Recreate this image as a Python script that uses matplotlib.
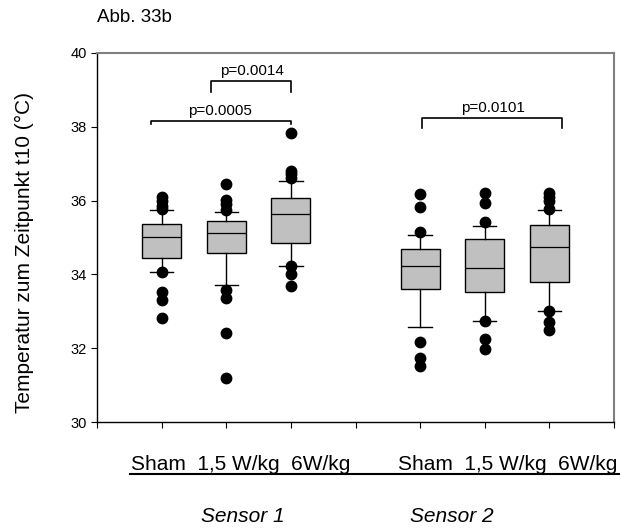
import matplotlib
matplotlib.use('Agg')
import matplotlib.pyplot as plt
from matplotlib.lines import Line2D

plt.rcParams['font.family'] = ['Liberation Sans', 'DejaVu Sans']

# box positions: Sensor 1 at 1..3, Sensor 2 at 5..7
positions = [1, 2, 3, 5, 6, 7]
q1 = [34.44, 34.57, 34.85, 33.60, 33.52, 33.80]
median = [35.02, 35.13, 35.63, 34.23, 34.17, 34.75]
q3 = [35.36, 35.44, 36.08, 34.70, 34.95, 35.34]
whislo = [34.06, 33.72, 34.23, 32.58, 32.74, 33.00]
whishi = [35.75, 35.68, 36.54, 35.08, 35.30, 35.75]
fliers = [
    [36.10, 35.99, 35.85, 35.77, 34.06, 33.53, 33.30, 32.81],
    [36.46, 36.02, 35.90, 35.75, 33.57, 33.35, 32.41, 31.20],
    [37.82, 36.79, 36.71, 36.62, 34.23, 34.00, 33.68],
    [36.19, 35.84, 35.14, 32.16, 31.74, 31.53],
    [36.21, 35.93, 35.41, 32.74, 32.25, 31.98],
    [36.21, 36.10, 35.99, 35.77, 33.00, 32.70, 32.48],
]

# significance brackets: (x left, x right, y, drop, label, label x)
brackets = [
    (0.83, 3.0, 38.16, 0.09, 'p=0.0005', 1.90),
    (1.76, 3.0, 39.24, 0.30, 'p=0.0014', 2.40),
    (5.03, 7.2, 38.23, 0.25, 'p=0.0101', 6.12),
]

group_text = 'Sham  1,5 W/kg  6W/kg'

fig = plt.figure(figsize=(6.35, 5.29), dpi=100)
ax = fig.add_axes([97 / 635, 1 - 422 / 529, (614 - 97) / 635, (422 - 53) / 529])

stats = []
for i in range(len(positions)):
    stats.append(dict(q1=q1[i], med=median[i], q3=q3[i],
                      whislo=whislo[i], whishi=whishi[i], fliers=fliers[i]))

ax.bxp(stats, positions=positions, widths=0.6, patch_artist=True,
       showfliers=True,
       boxprops=dict(facecolor='#c0c0c0', edgecolor='black', linewidth=1.0),
       medianprops=dict(color='black', linewidth=0.9),
       whiskerprops=dict(color='black', linewidth=1.0),
       capprops=dict(color='black', linewidth=1.0),
       capwidths=0.36,
       flierprops=dict(marker='o', markerfacecolor='black',
                       markeredgecolor='black', markersize=7.5))

for xl, xr, y, drop, lab, xt in brackets:
    ax.plot([xl, xl, xr, xr], [y - drop, y, y, y - drop], color='black', lw=1.2)
    ax.text(xt, y + 0.17, lab, ha='center', va='baseline', fontsize=11)

ax.set_xlim(0, 8)
ax.set_ylim(30, 40)
ax.set_xticks(range(0, 9))
ax.set_xticklabels([])
ax.set_yticks(range(30, 41, 2))
ax.tick_params(axis='y', labelsize=10.5, length=4, direction='out')
ax.tick_params(axis='x', length=4, direction='out')
for s in ['top', 'right']:
    ax.spines[s].set_color('#808080')
    ax.spines[s].set_linewidth(1.5)
for s in ['left', 'bottom']:
    ax.spines[s].set_color('black')
    ax.spines[s].set_linewidth(1.0)

ax.set_ylabel('Temperatur zum Zeitpunkt t10 (°C)', fontsize=15)
ax.yaxis.set_label_coords(-(97 - 34) / 517, 0.46)

fig.text(97 / 635, 1 - 17 / 529, 'Abb. 33b', fontsize=13.5, ha='left', va='center')
fig.text(241 / 635, 1 - 464 / 529, group_text, fontsize=15, ha='center', va='center')
fig.text(507.5 / 635, 1 - 464 / 529, group_text, fontsize=15, ha='center', va='center')
fig.add_artist(Line2D([130 / 635, 619 / 635], [1 - 473.5 / 529] * 2,
                      color='black', lw=1.5, transform=fig.transFigure))
fig.text(243 / 635, 1 - 517 / 529, 'Sensor 1', fontsize=15, style='italic',
         ha='center', va='center')
fig.text(452 / 635, 1 - 517 / 529, 'Sensor 2', fontsize=15, style='italic',
         ha='center', va='center')

fig.savefig('out.png', dpi=100)
